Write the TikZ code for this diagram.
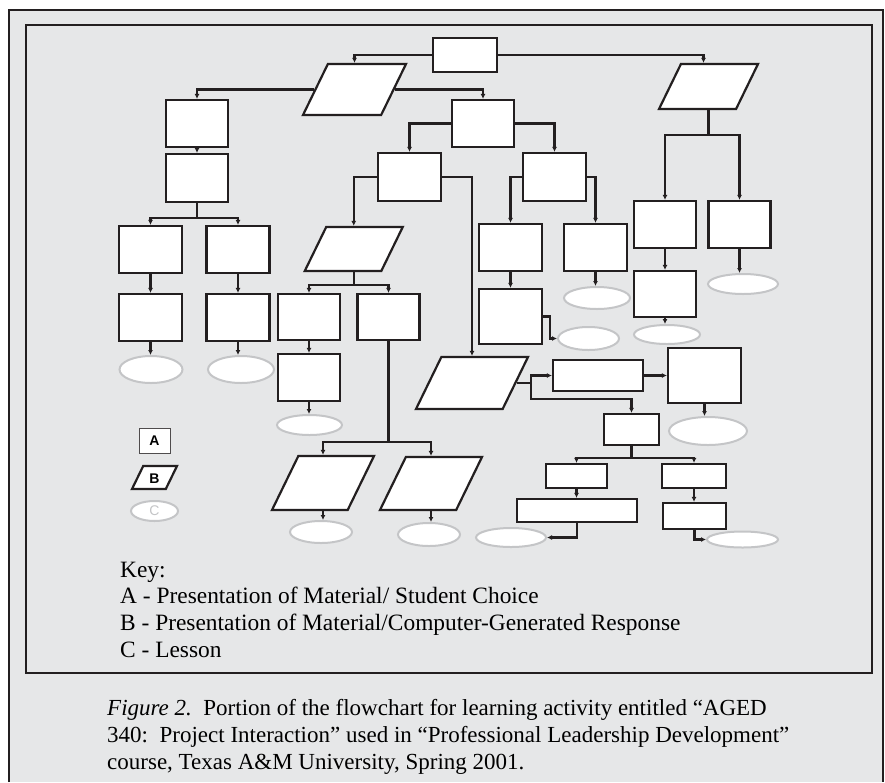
\documentclass[tikz,border=0pt]{standalone}
\usepackage{fontspec}
\setmainfont{Liberation Serif}
\newfontfamily\keyfont{Liberation Sans}
\usepackage{tikz}
\usetikzlibrary{arrows.meta, shapes.geometric, positioning}
\tikzset{>={Latex[width=5pt,length=5pt]}}
\definecolor{panel}{HTML}{E6E7E8}
\definecolor{ink}{HTML}{231F20}
\definecolor{lessonline}{HTML}{C4C5C7}
\tikzset{
  dims/.style 2 args={minimum width=#1, minimum height=#2},
  box/.style={rectangle, draw=ink, line width=2.2pt, fill=white, inner sep=0pt},
  para/.style={trapezium, trapezium left angle=64, trapezium right angle=116,
    trapezium stretches body, draw=ink, line width=2.2pt, fill=white, inner sep=0pt},
  paradims/.style 2 args={minimum width=#1, execute at begin node={\rule{0pt}{#2}}},
  lesson/.style={ellipse, draw=lessonline, line width=2pt, fill=white, inner sep=0pt},
  link/.style={draw=ink, line width=2.1pt, ->},
  keytext/.style={anchor=base west, inner sep=0pt, font=\fontsize{23.4}{27}\selectfont},
  captext/.style={anchor=base west, inner sep=0pt, font=\fontsize{23}{27}\selectfont},
}

\begin{document}
\begin{tikzpicture}[x=1pt, y=-1pt, on grid, node distance=60pt]
\useasboundingbox (0,0) rectangle (885,782);
% frames
\fill[panel] (9,10) rectangle (883,782);
\draw[ink, line width=2pt] (9,782) -- (9,10) -- (883,10) -- (883,782);
\draw[ink, line width=1.5pt, fill=panel] (26,25) rectangle (872,673);

% top of the chart
\node (T) [box, dims={64pt}{34pt}] at (465,55) {};
\node (P1) [para, paradims={103pt}{51pt}] at (354.5,89.5) {};
\node (P2) [para, paradims={99pt}{45pt}] at (708.5,86.5) {};

% left column
\node (B1) [box, dims={62pt}{47pt}] at (197,123.5) {};
\node (B1b) [box, dims={62pt}{48pt}, below = 54.5pt of B1] {};
\node (L1) [box, dims={63pt}{47pt}] at (150.5,249.5) {};
\node (L2) [box, dims={63pt}{47pt}, right = 87.5pt of L1] {};
\node (L1b) [box, dims={63pt}{47pt}, below = 68pt of L1] {};
\node (L2b) [box, dims={63pt}{47pt}, below = 68pt of L2] {};
\node (E1) [lesson, dims={63pt}{27pt}] at (151,369.5) {};
\node (E2) [lesson, dims={66pt}{27pt}] at (241,369.5) {};

% middle
\node (B2) [box, dims={62pt}{47pt}] at (483,123.5) {};
\node (C1) [box, dims={63pt}{48pt}] at (409.5,177) {};
\node (C2) [box, dims={63pt}{48pt}, right = 145pt of C1] {};
\node (P3) [para, paradims={98pt}{44pt}] at (353.75,249) {};
\node (P4) [para, paradims={112pt}{52pt}] at (472,383) {};
\node (D1) [box, dims={62pt}{46pt}] at (309,317) {};
\node (D2) [box, dims={62pt}{46pt}, right = 79.5pt of D1] {};
\node (D1b) [box, dims={62pt}{47pt}, below = 60.5pt of D1] {};
\node (E3) [lesson, dims={65pt}{20pt}] at (309.5,425) {};
\node (P5) [para, paradims={102pt}{54pt}] at (323,483) {};
\node (P6) [para, paradims={102pt}{53pt}] at (431,483.5) {};
\node (E4) [lesson, dims={62pt}{22pt}] at (321,532) {};
\node (E4b) [lesson, dims={62pt}{23pt}] at (429,534.5) {};
\node (F1) [box, dims={63pt}{47pt}] at (510.5,247.5) {};
\node (F2) [box, dims={63pt}{47pt}, right = 85pt of F1] {};
\node (F1b) [box, dims={63pt}{55pt}] at (510.5,316.5) {};
\node (E5) [lesson, dims={61pt}{23pt}] at (588.5,338.5) {};
\node (E6) [lesson, dims={66pt}{22pt}] at (597,298) {};

% right column
\node (G1) [box, dims={62pt}{47pt}] at (665,224.5) {};
\node (G2) [box, dims={62pt}{47pt}, right = 74.5pt of G1] {};
\node (G1b) [box, dims={62pt}{46pt}, below = 69.5pt of G1] {};
\node (E7) [lesson, dims={66pt}{19pt}] at (667,334.5) {};
\node (E8) [lesson, dims={70pt}{20pt}] at (743,284) {};

% lower right
\node (H1) [box, dims={90pt}{31pt}] at (598,375.5) {};
\node (H2) [box, dims={73pt}{55pt}] at (704.5,375.5) {};
\node (E9) [lesson, dims={78pt}{28pt}] at (708,431) {};
\node (J) [box, dims={55pt}{31pt}] at (631.5,429.5) {};
\node (K1) [box, dims={61pt}{24pt}] at (576.5,476) {};
\node (K2) [box, dims={64pt}{24pt}] at (694,476) {};
\node (K1b) [box, dims={120pt}{23pt}] at (577,510.5) {};
\node (K2b) [box, dims={63pt}{26pt}] at (694.5,516) {};
\node (E10) [lesson, dims={70pt}{19pt}] at (511,537.5) {};
\node (E11) [lesson, dims={71pt}{16pt}] at (742.5,539.5) {};

% connectors
\draw[link] (T.west) -| (P1.north);
\draw[link] (T.east) -| ([xshift=-5pt]P2.north);
\draw[link] (P1.west) -| (B1.north);
\draw[link] (P1.east) -| (B2.north);
\draw[link] (B1.south) -- (B1b.north);
\draw[link] (B1b.south) -- ++(0,15) -| (L1.north);
\draw[link] (B1b.south) -- ++(0,15) -| (L2.north);
\draw[link] (L1.south) -- (L1b.north);
\draw[link] (L2.south) -- (L2b.north);
\draw[link] (L1b.south) -- (L1b.south |- E1.north);
\draw[link] (L2b.south) -- (L2b.south |- E2.north);
\draw[link] (B2.west) -| (C1.north);
\draw[link] (B2.east) -| (C2.north);
\draw[link] (C1.west) -| (P3.north);
\draw[link] (C1.east) -| (P4.north);
\draw[link] (P3.south) -- ++(0,13) -| (D1.north);
\draw[link] (P3.south) -- ++(0,13) -| (D2.north);
\draw[link] (D1.south) -- (D1b.north);
\draw[link] (D1b.south) -- (D1b.south |- E3.north);
\draw[link] (D2.south) -- ++(0,101) -| (P5.north);
\draw[link] (D2.south) -- ++(0,101) -| (P6.north);
\draw[link] (P5.south) -- (P5.south |- E4.north);
\draw[link] (P6.south) -- (P6.south |- E4b.north);
\draw[link] (C2.west) -| (F1.north);
\draw[link] (C2.east) -| (F2.north);
\draw[link] (F1.south) -- (F1b.north);
\draw[link] (F2.south) -- (F2.south |- E6.north);
\draw[link] (F1b.east) -- ++(7,0) |- (E5.west);
\draw[link] (P2.south) -- ++(0,25) -| (G1.north);
\draw[link] (P2.south) -- ++(0,25) -| (G2.north);
\draw[link] (G1.south) -- (G1b.north);
\draw[link] (G1b.south) -- (G1b.south |- E7.north);
\draw[link] (G2.south) -- (G2.south |- E8.north);
\draw[link] (P4.east) -- ++(14,0) |- (H1.west);
\draw[link] (P4.east) -- ++(14,0) -- ++(0,16) -| (J.north);
\draw[link] (H1.east) -- (H2.west);
\draw[link] (H2.south) -- (H2.south |- E9.north);
\draw[link] (J.south) -- ++(0,12) -| (K1.north);
\draw[link] (J.south) -- ++(0,12) -| (K2.north);
\draw[link] (K1.south) -- (K1.south |- K1b.north);
\draw[link] (K2.south) -- (K2.south |- K2b.north);
\draw[link] (K1b.south) |- (E10.east);
\draw[link] (K2b.south) |- (E11.west);

% legend symbols
\node (symA) [rectangle, draw=ink!80, line width=1pt, fill=white, dims={31pt}{25pt},
  font=\keyfont\bfseries\fontsize{14}{14}\selectfont] at (154.5,440.5) {A};
\node (symB) [para, paradims={45pt}{23pt}, font=\keyfont\bfseries\fontsize{14}{14}\selectfont]
  at (154.5,477.5) {\raisebox{6pt}{B}};
\node (symC) [lesson, dims={47pt}{20pt}, text=lessonline,
  font=\keyfont\fontsize{14}{14}\selectfont] at (154.5,511) {C};

% key and caption
\node (keyhead) [keytext] at (120,577) {Key:};
\node (keylineA) [keytext] at (120,603) {A - Presentation of Material/ Student Choice};
\node (keylineB) [keytext] at (120,630) {B - Presentation of Material/Computer-Generated Response};
\node (keylineC) [keytext] at (120,657) {C - Lesson};
\node (cap1) [captext] at (107,715) {\textit{Figure 2.}\ \ Portion of the flowchart for learning activity entitled “AGED};
\node (cap2) [captext] at (107,742) {340:\ \ Project Interaction” used in “Professional Leadership Development”};
\node (cap3) [captext] at (107,769) {course, Texas A\&M University, Spring 2001.};
\end{tikzpicture}
\end{document}
